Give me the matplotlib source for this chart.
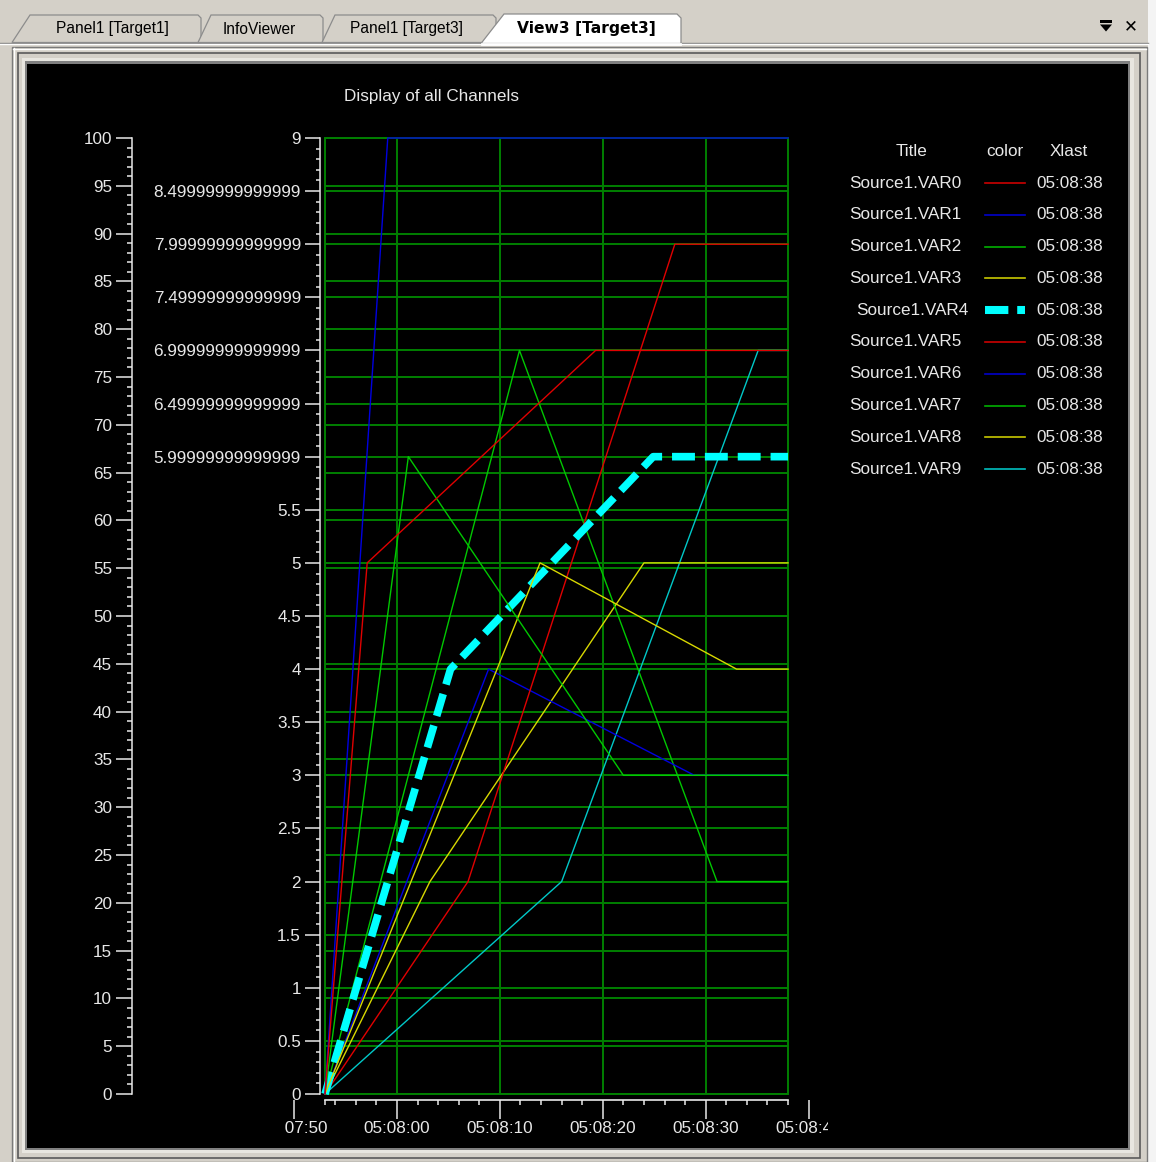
import matplotlib
matplotlib.use("Agg")
import matplotlib.pyplot as plt
from matplotlib.patches import Rectangle, Polygon
from matplotlib.lines import Line2D
from matplotlib.ticker import FixedLocator, MultipleLocator, FuncFormatter
from matplotlib.transforms import Bbox

W, H, DPI = 1156, 1162, 100
plt.rcParams['font.family'] = ['Liberation Sans', 'DejaVu Sans']

# ---------------- data ----------------
chart_title = "Display of all Channels"
tab_labels = ["Panel1 [Target1]", "InfoViewer", "Panel1 [Target3]", "View3 [Target3]"]
legend_headers = ["Title", "color", "Xlast"]
series_names = ["Source1.VAR0", "Source1.VAR1", "Source1.VAR2", "Source1.VAR3", "Source1.VAR4",
                "Source1.VAR5", "Source1.VAR6", "Source1.VAR7", "Source1.VAR8", "Source1.VAR9"]
series_xlast = ["05:08:38"] * 10
start_time_s = 5 * 3600 + 7 * 60 + 53          # 05:07:53 = sample time 0

# seconds after start, values (right axis 0..9)
var0_t = [0, 4.1, 26.3, 45];  var0_v = [0, 5, 7, 7]
var1_t = [0, 6.1, 45];        var1_v = [0, 9, 9]
var2_t = [0, 8.1, 29.0, 45];  var2_v = [0, 6, 3, 3]
var3_t = [0, 20.9, 40.0, 45]; var3_v = [0, 5, 4, 4]
var4_t = [0, 12.2, 31.9, 45]; var4_v = [0, 4, 6, 6]
var5_t = [0, 13.9, 34.0, 45]; var5_v = [0, 2, 8, 8]
var6_t = [0, 15.9, 35.9, 45]; var6_v = [0, 4, 3, 3]
var7_t = [0, 18.9, 38.1, 45]; var7_v = [0, 7, 2, 2]
var8_t = [0, 10.2, 31.0, 45]; var8_v = [0, 2, 5, 5]
var9_t = [0, 23.0, 42.1, 45]; var9_v = [0, 2, 7, 7]
series_t = [var0_t, var1_t, var2_t, var3_t, var4_t, var5_t, var6_t, var7_t, var8_t, var9_t]
series_v = [var0_v, var1_v, var2_v, var3_v, var4_v, var5_v, var6_v, var7_v, var8_v, var9_v]

right_ticks = [i * 0.5 for i in range(19)]
right_labels = ["0", "0.5", "1", "1.5", "2", "2.5", "3", "3.5", "4", "4.5", "5", "5.5",
                "5.99999999999999", "6.49999999999999", "6.99999999999999",
                "7.49999999999999", "7.99999999999999", "8.49999999999999", "9"]
left_ticks = list(range(0, 101, 5))
x_major_ticks = [-3, 7, 17, 27, 37, 47]

# ---------------- styles ----------------
line_colors = ['#E00000', '#0000E0', '#00C800', '#D8D800', '#00FFFF',
               '#E00000', '#0000E0', '#00C800', '#D8D800', '#00C8C8']
legend_colors = ['#CC0000', '#0000CC', '#00B000', '#C8C800', '#00FFFF',
                 '#CC0000', '#0000CC', '#00B000', '#C8C800', '#00C0C0']
thick_idx = 4
GRID = '#008000'
FG = '#E8E8E8'
WIN = '#D4D0C8'
FS = 12.3

fig = plt.figure(figsize=(W / DPI, H / DPI), dpi=DPI)
fig.patch.set_facecolor(WIN)

def rect(l, t, r, b):
    return [l / W, 1 - b / H, (r - l) / W, (b - t) / H]

# ---------- background / window chrome (pixel coordinates) ----------
bg = fig.add_axes([0, 0, 1, 1], zorder=-5)
bg.set_xlim(0, W); bg.set_ylim(H, 0); bg.axis('off')

def box(l, t, r, b, fc, ec='none', lw=0, z=0):
    bg.add_patch(Rectangle((l, t), r - l, b - t, facecolor=fc, edgecolor=ec, linewidth=lw, zorder=z))

def hl(x0, x1, y, c, lw=1.0, z=1):
    bg.add_line(Line2D([x0, x1], [y, y], color=c, linewidth=lw, zorder=z))

def vl(x, y0, y1, c, lw=1.0, z=1):
    bg.add_line(Line2D([x, x], [y0, y1], color=c, linewidth=lw, zorder=z))

box(1148, 0, W, H, '#F4F4F4')
# tab strip baseline
hl(0, 1148, 42.5, '#808080', 1.0)
hl(0, 1148, 43.5, '#FFFFFF', 1.0)
# tabs
tab_polys = [
    [(12, 42.5), (30, 15), (198, 15), (201, 18), (201, 42.5)],
    [(198, 42.5), (211, 15), (320, 15), (323, 18), (323, 42.5)],
    [(322, 42.5), (335, 15), (493, 15), (496, 18), (496, 42.5)],
]
for p in tab_polys:
    bg.add_patch(Polygon(p, closed=True, facecolor=WIN, edgecolor='#8C8C8C', linewidth=0.9, zorder=2))
bg.add_patch(Polygon([(481, 43.5), (504, 14), (677, 14), (681, 18), (681, 43.5)], closed=True,
                     facecolor='#FFFFFF', edgecolor='#8C8C8C', linewidth=0.9, zorder=3))
hl(482, 680, 43.5, '#FFFFFF', 2.0, z=4)
tab_x = [112, 259, 407, 586]
for i, (lab, x) in enumerate(zip(tab_labels, tab_x)):
    bg.text(x, 29, lab, ha='center', va='center', fontsize=11.2, color='#000000',
            fontweight='bold' if i == 3 else 'normal', family=['DejaVu Sans'] if i == 3 else None, zorder=5)
# pin + close icons
bg.add_patch(Rectangle((1100, 20), 12, 2.5, facecolor='#000000', zorder=5))
bg.add_patch(Polygon([(1100, 24.5), (1112, 24.5), (1106, 31.5)], closed=True, facecolor='#000000', zorder=5))
bg.text(1131, 26.5, "\u2715", ha='center', va='center', fontsize=12, fontweight='bold',
        family=['DejaVu Sans'], color='#000000', zorder=5)

# panel frame bevels
box(12, 47, 1147, H, WIN, '#7A7A7A', 1.0)
hl(13, 1146, 48.5, '#FFFFFF', 1.0)
vl(13.5, 48, H, '#FFFFFF', 1.0)
box(18, 53, 1140, 1158, WIN, '#5A5A5A', 1.2, z=1)
box(22, 58, 1134, 1153, '#E8E6E0', 'none', 0, z=2)
box(25, 61, 1130, 1150, '#808080', 'none', 0, z=3)
box(27, 64, 1128, 1148, '#000000', 'none', 0, z=4)

# title
bg.text(432, 97, chart_title, ha='center', va='center', fontsize=FS, color=FG, zorder=6)

# legend table
bg.text(912, 151, legend_headers[0], ha='center', va='center', fontsize=FS, color=FG, zorder=6)
bg.text(1005, 151, legend_headers[1], ha='center', va='center', fontsize=FS, color=FG, zorder=6)
bg.text(1069, 151, legend_headers[2], ha='center', va='center', fontsize=FS, color=FG, zorder=6)
for i, (nm, xl) in enumerate(zip(series_names, series_xlast)):
    y = 183 + 31.8 * i
    bg.text(856 if i == thick_idx else 849, y, nm, ha='left', va='center', fontsize=FS, color=FG, zorder=6)
    bg.text(1036, y, xl, ha='left', va='center', fontsize=FS, color=FG, zorder=6)
    if i == thick_idx:
        bg.add_line(Line2D([985, 1025], [y, y], color=legend_colors[i], linewidth=5.8,
                           dashes=(2.9, 1.1), solid_capstyle='butt', dash_capstyle='butt', zorder=6))
    else:
        bg.add_line(Line2D([985, 1025], [y, y], color=legend_colors[i], linewidth=1.2, zorder=6))

# ---------------- chart axes ----------------
PL, PT, PR, PB = 325, 138, 788, 1094
TSPAN = 45.0
pxs = (PR - PL) / TSPAN
PT2PX = DPI / 72.0

# left 0..100 scale
axl = fig.add_axes(rect(PL, PT, PR, PB), zorder=1)
axl.patch.set_visible(False)
axl.set_xlim(0, TSPAN); axl.set_ylim(0, 100)
for s in ['top', 'right', 'bottom']:
    axl.spines[s].set_visible(False)
axl.spines['left'].set_position(('outward', (PL - 132) / PT2PX))
axl.spines['left'].set_color(FG)
axl.spines['left'].set_linewidth(1.1)
axl.set_yticks(left_ticks)
axl.set_yticklabels([str(v) for v in left_ticks])
axl.yaxis.set_minor_locator(MultipleLocator(1))
axl.tick_params(axis='y', which='major', length=16 / PT2PX, width=1.1, color=FG, labelcolor=FG,
                labelsize=FS, pad=4 / PT2PX, direction='out')
axl.tick_params(axis='y', which='minor', length=5 / PT2PX, width=1.1, color=FG, direction='out')
axl.set_xticks([])
axl.grid(axis='y', which='major', color=GRID, linewidth=1.4)

# right 0..9 scale with data
ax = fig.add_axes(rect(PL, PT, PR, PB), zorder=2)
ax.patch.set_visible(False)
ax.set_xlim(0, TSPAN); ax.set_ylim(0, 9)
for s in ['top', 'right', 'bottom']:
    ax.spines[s].set_visible(False)
ax.spines['left'].set_position(('outward', 5 / PT2PX))
ax.spines['left'].set_color(FG)
ax.spines['left'].set_linewidth(1.1)
ax.set_yticks(right_ticks)
ax.set_yticklabels(right_labels)
ax.yaxis.set_minor_locator(MultipleLocator(0.1))
ax.tick_params(axis='y', which='major', length=15 / PT2PX, width=1.1, color=FG, labelcolor=FG,
               labelsize=FS, pad=4 / PT2PX, direction='out')
ax.tick_params(axis='y', which='minor', length=4 / PT2PX, width=1.1, color=FG, direction='out')
ax.set_xticks([7, 17, 27, 37])
ax.tick_params(axis='x', length=0, labelbottom=False)
ax.grid(axis='both', which='major', color=GRID, linewidth=1.4)
ax.add_patch(Rectangle((0, 0), 1, 1, transform=ax.transAxes, fill=False, edgecolor=GRID,
                       linewidth=1.4, clip_on=False, zorder=1.6))

# later channels are drawn first (VAR0 ends up on top)
for i in range(10):
    z = 3 + (10 - i) * 0.01
    if i == thick_idx:
        ax.plot(series_t[i], series_v[i], color=line_colors[i], linewidth=5.5,
                dashes=(3.0, 1.3), dash_capstyle='butt', solid_joinstyle='miter', clip_on=False, zorder=z)
    else:
        ax.plot(series_t[i], series_v[i], color=line_colors[i], linewidth=1.0, clip_on=False, zorder=z)

# time axis
XL = PL - 3 * pxs
XR = PL + 47 * pxs
axx = fig.add_axes(rect(XL, PT, XR, PB), zorder=1)
axx.patch.set_visible(False)
axx.set_xlim(-3, 47); axx.set_ylim(0, 1)
for s in ['top', 'right', 'left']:
    axx.spines[s].set_visible(False)
axx.spines['bottom'].set_position(('outward', 6 / PT2PX))
axx.spines['bottom'].set_bounds(0, TSPAN)
axx.spines['bottom'].set_color(FG)
axx.spines['bottom'].set_linewidth(1.2)
axx.set_yticks([])
axx.xaxis.set_major_locator(FixedLocator(x_major_ticks))
axx.xaxis.set_minor_locator(FixedLocator([0] + list(range(1, 46, 2))))

def fmt_time(v, pos=None):
    s = int(round(start_time_s + v))
    return "%02d:%02d:%02d" % (s // 3600, (s // 60) % 60, s % 60)

axx.xaxis.set_major_formatter(FuncFormatter(fmt_time))
axx.tick_params(axis='x', which='major', length=19 / PT2PX, width=1.1, color=FG, labelcolor=FG,
                labelsize=FS, pad=2 / PT2PX, direction='out')
axx.tick_params(axis='x', which='minor', length=5 / PT2PX, width=1.1, color=FG, direction='out')
clip = Bbox.from_extents(285, 0, 828, H)
for tk in axx.xaxis.get_major_ticks():
    tk.label1.set_clip_box(clip)
    tk.label1.set_clip_on(True)

fig.savefig("out.png", dpi=DPI, facecolor=fig.get_facecolor())
